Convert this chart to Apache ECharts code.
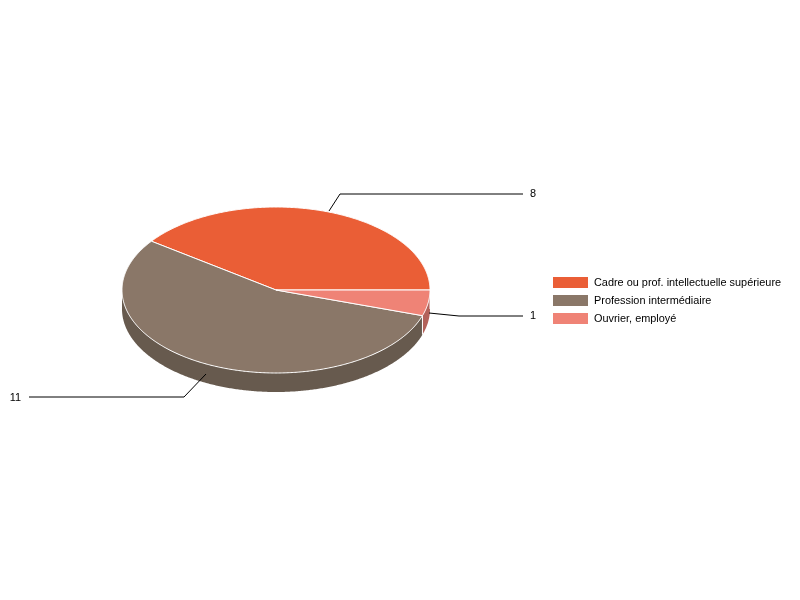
<!DOCTYPE html>
<html>
<head>
<meta charset="utf-8">
<style>html,body{margin:0;padding:0;background:#fff}#c{width:800px;height:600px}</style>
<script src="https://cdn.jsdelivr.net/npm/echarts@6/dist/echarts.min.js"></script>
</head>
<body>
<div id="c"></div>
<script>
var categories = ['Cadre ou prof. intellectuelle supérieure', 'Profession intermédiaire', 'Ouvrier, employé'];
var values = [8, 11, 1];
var topColors = ['#EA5E36', '#8A7768', '#EF8376'];
var sideColors = ['#A34225', '#675A4E', '#B3625A'];

// layout of the tilted pie and its leader lines
var CX = 276, CY = 290, RX = 154, RY = 83, DEPTH = 19;
var FONT = '"Liberation Sans", Arial, sans-serif';
var leaders = [
  { sx: 329, sy: 211, ex: 340, ey: 194, tx: 523, textX: 530, textY: 193.5, align: 'left' },
  { sx: 206, sy: 374, ex: 184, ey: 397, tx: 29, textX: 21, textY: 397.5, align: 'right' },
  { sx: 429, sy: 313, ex: 459, ey: 316, tx: 523, textX: 530, textY: 315.5, align: 'left' }
];

var total = values.reduce(function (a, b) { return a + b; }, 0);
function pt(deg, dy) {
  var r = deg * Math.PI / 180;
  return [CX + RX * Math.cos(r), CY - RY * Math.sin(r) + (dy || 0)];
}
function arcPoints(from, to, dy) {
  var out = [], n = Math.max(2, Math.ceil(Math.abs(to - from) * 2));
  for (var i = 0; i <= n; i++) out.push(pt(from + (to - from) * i / n, dy));
  return out;
}
function makeRender(idx) {
  return function (params, api) {
    var before = values.slice(0, idx).reduce(function (a, b) { return a + b; }, 0);
    var a0 = before / total * 360;
    var a1 = a0 + api.value(0) / total * 360;
    var kids = [];
    // side wall: only the part facing the viewer
    var s0 = Math.max(a0, 180), s1 = Math.min(a1, 360);
    if (s1 > s0) {
      var p1 = pt(s1), q1 = pt(s1, DEPTH);
      kids.push({
        type: 'polygon', z2: 1,
        shape: { points: arcPoints(s0, s1, 0).concat(arcPoints(s1, s0, DEPTH)) },
        style: { fill: sideColors[idx], stroke: null }
      });
      kids.push({ type: 'line', z2: 2, shape: { x1: p1[0], y1: p1[1], x2: q1[0], y2: q1[1] }, style: { stroke: '#fff', lineWidth: 1 } });
    }
    // top face
    kids.push({
      type: 'polygon', z2: 3,
      shape: { points: [[CX, CY]].concat(arcPoints(a0, a1, 0)) },
      style: { fill: topColors[idx], stroke: '#fff', lineWidth: 1, lineJoin: 'round' }
    });
    // leader line and value label
    var l = leaders[idx];
    kids.push({
      type: 'polyline', z2: 5,
      shape: { points: [[l.sx, l.sy], [l.ex, l.ey], [l.tx, l.ey]] },
      style: { fill: null, stroke: '#000', lineWidth: 1 }
    });
    kids.push({
      type: 'text', z2: 6, x: l.textX, y: l.textY,
      style: { text: String(api.value(0)), font: '10.9px ' + FONT, fill: '#000', align: l.align, verticalAlign: 'middle' }
    });
    return { type: 'group', children: kids };
  };
}

var series = categories.map(function (name, i) {
  return {
    type: 'custom', name: name, coordinateSystem: 'none',
    silent: true, animation: false, clip: false,
    itemStyle: { color: topColors[i] },
    data: [[values[i]]],
    renderItem: makeRender(i)
  };
});

var chart = echarts.init(document.getElementById('c'), null, { renderer: 'canvas' });
chart.setOption({
  animation: false,
  backgroundColor: '#fff',
  legend: {
    orient: 'vertical', left: 548, top: 272,
    icon: 'rect', itemWidth: 35, itemHeight: 11, itemGap: 7,
    selectedMode: false,
    textStyle: { fontFamily: FONT, fontSize: 10.9, color: '#000', padding: [2, 0, 0, 1] },
    data: categories
  },
  series: series
});
</script>
</body>
</html>
